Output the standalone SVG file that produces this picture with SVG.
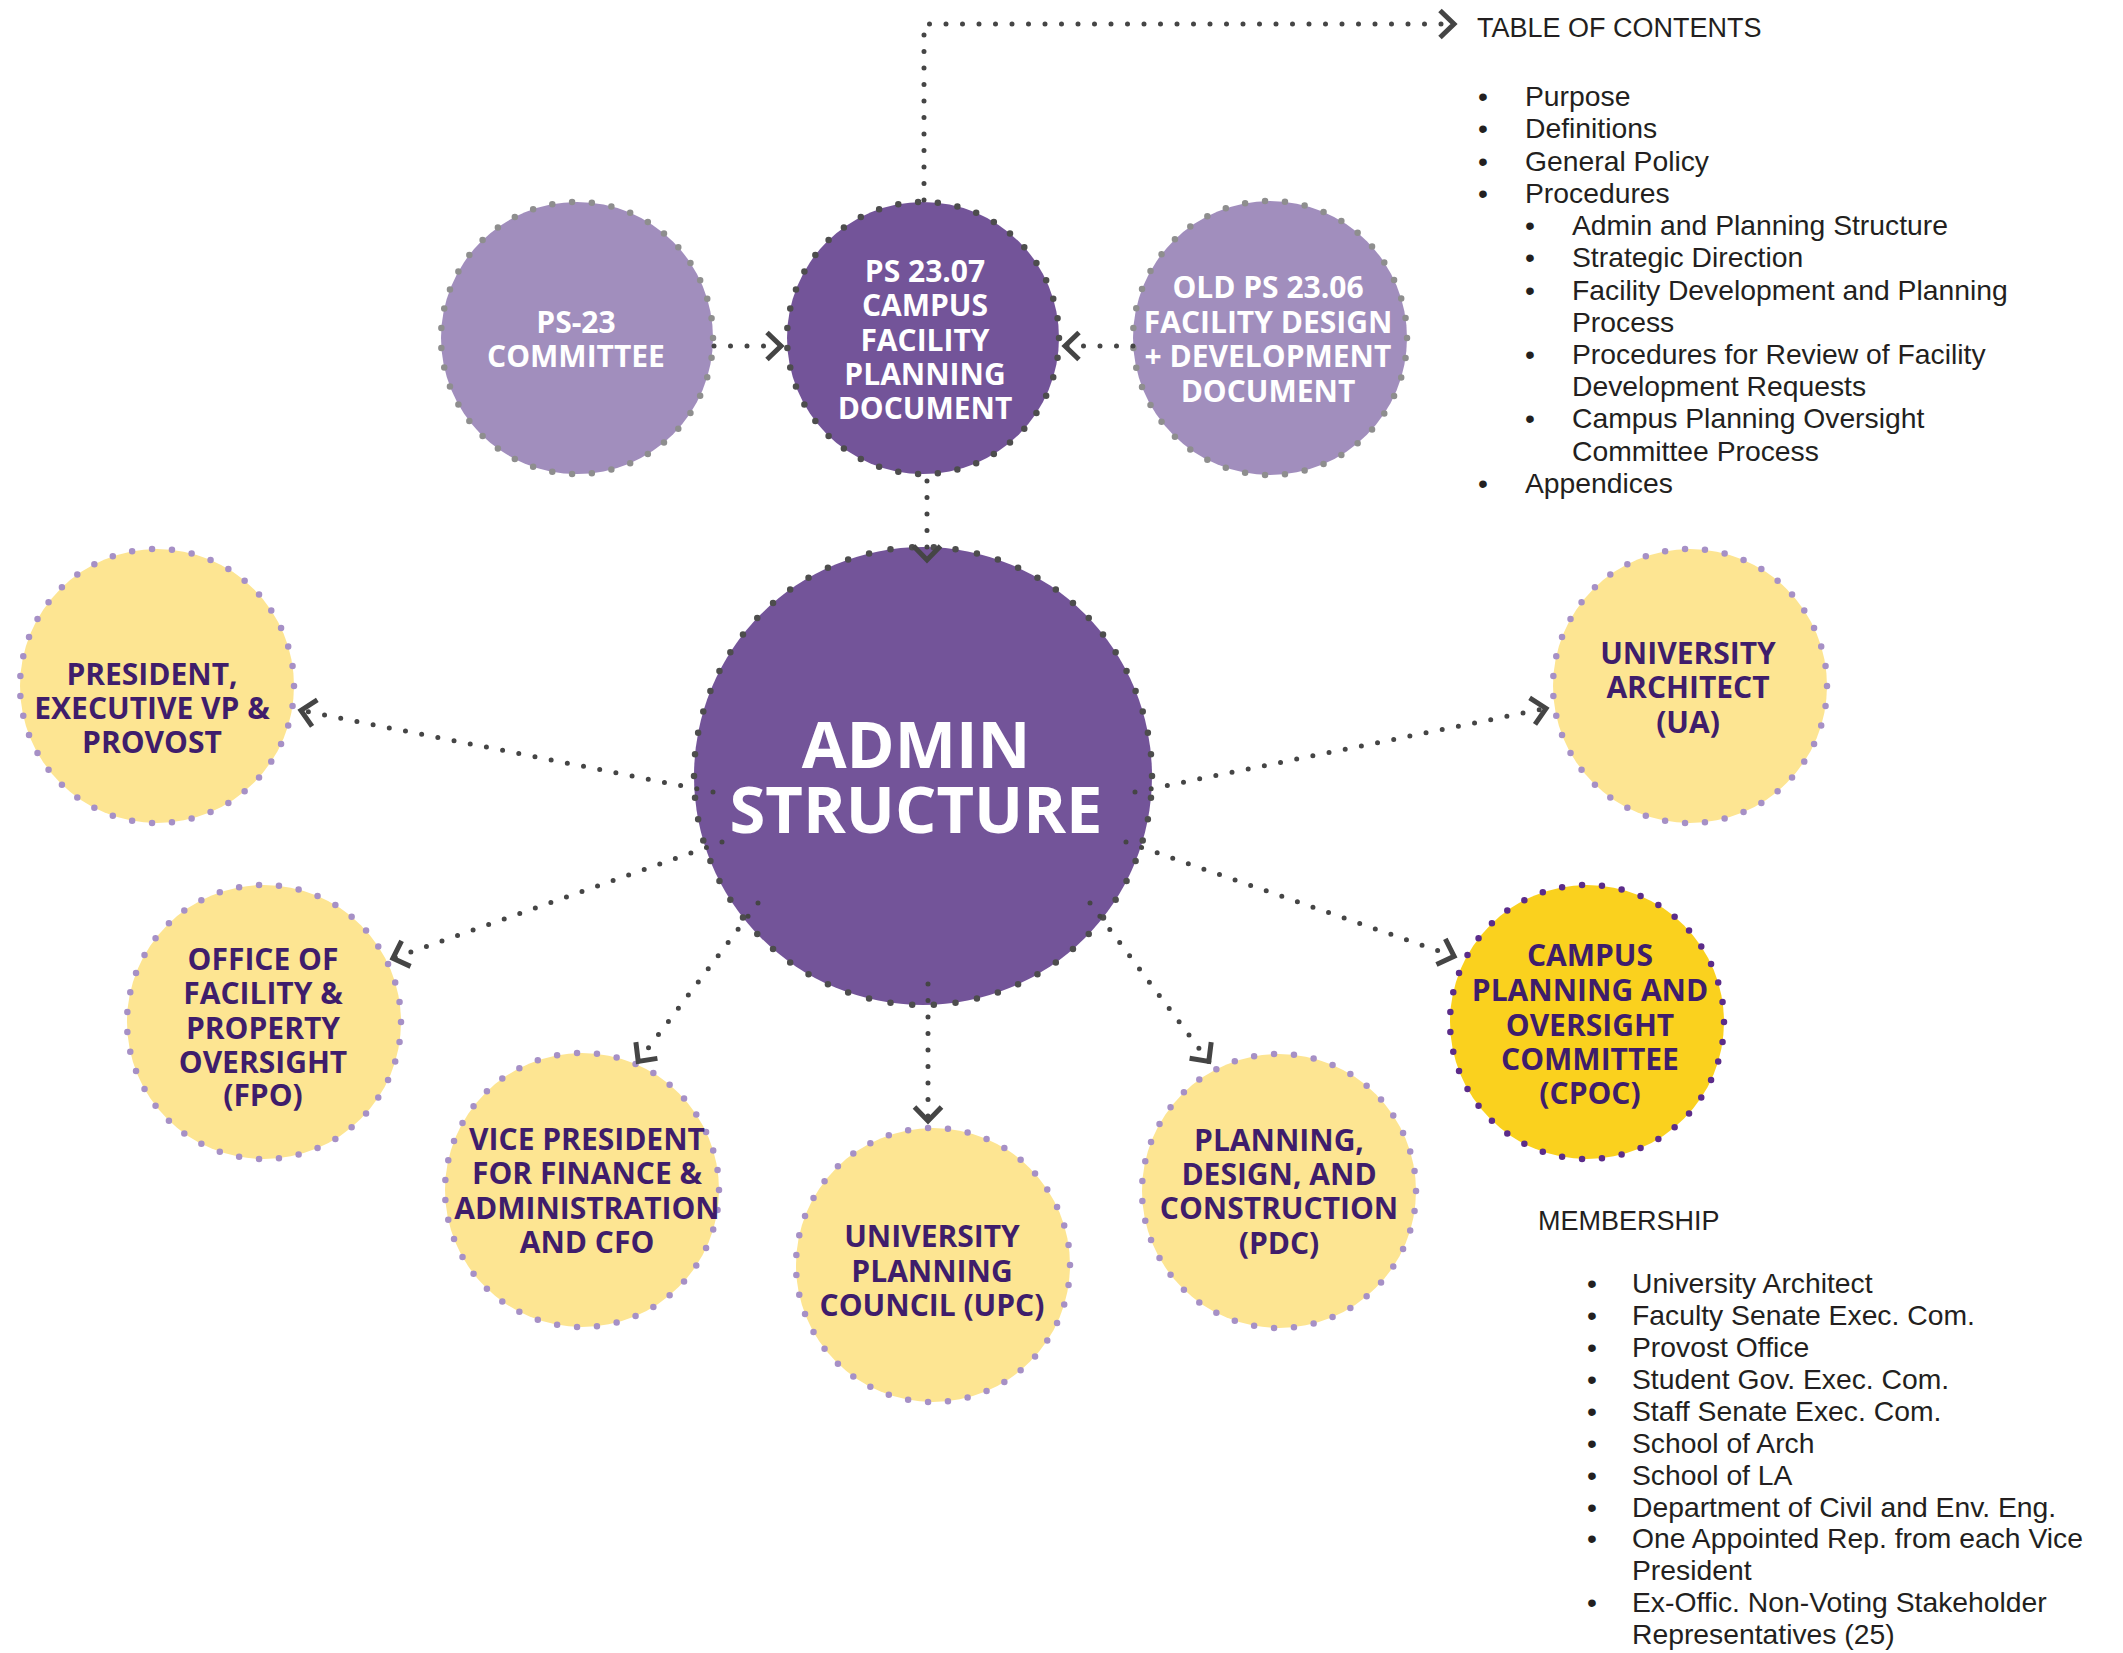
<svg xmlns="http://www.w3.org/2000/svg" width="2123" height="1653" viewBox="0 0 2123 1653">
<defs>
<style>
.n{stroke-width:6.5;stroke-linecap:round;stroke-dasharray:0 1}
.lp{fill:#A18EBD;stroke:#8E8E8E}
.dp{fill:#735499;stroke:#4D4D4D}
.ye{fill:#FDE592;stroke:#A690C6}
.go{fill:#FAD11E;stroke:#5B2C8A}
.lbl{font-family:"Open Sans","Noto Sans",sans-serif;font-weight:700;font-size:30px;text-anchor:middle}
.big{font-size:65px}
.w{fill:#FFFFFF}
.p{fill:#3F1D6B}
.c{fill:none;stroke:#454545;stroke-width:5;stroke-linecap:round;stroke-dasharray:0 16.5;marker-end:url(#chev)}
.t{font-family:"Liberation Sans",Arial,sans-serif;font-size:28.3px;fill:#231F20}
.h{font-size:27px}
.b{text-anchor:middle}
</style>
<marker id="chev" markerUnits="userSpaceOnUse" orient="auto" viewBox="-20 -20 40 40" markerWidth="40" markerHeight="40" refX="0" refY="0" overflow="visible">
<path d="M-16,-13.5 L-2,0 L-16,13.5" fill="none" stroke="#454545" stroke-width="5"/>
</marker>
</defs>
<rect width="2123" height="1653" fill="#FFFFFF"/>

<g id="node-ps23-committee">
<circle class="n lp" cx="577" cy="338" r="136" pathLength="43"/>
<text class="lbl w"><tspan x="576" y="333">PS-23</tspan><tspan x="576" y="367">COMMITTEE</tspan></text>
</g>

<g id="node-ps2307">
<circle class="n dp" cx="923" cy="338" r="136" pathLength="43"/>
<text class="lbl w"><tspan x="925" y="282">PS 23.07</tspan><tspan x="925" y="316">CAMPUS</tspan><tspan x="925" y="351">FACILITY</tspan><tspan x="925" y="385">PLANNING</tspan><tspan x="925" y="419">DOCUMENT</tspan></text>
</g>

<g id="node-old-ps2306">
<circle class="n lp" cx="1270" cy="338" r="137" pathLength="43"/>
<text class="lbl w"><tspan x="1268" y="298">OLD PS 23.06</tspan><tspan x="1268" y="333">FACILITY DESIGN</tspan><tspan x="1268" y="367">+ DEVELOPMENT</tspan><tspan x="1268" y="402">DOCUMENT</tspan></text>
</g>

<g id="node-admin">
<circle class="n dp" cx="923" cy="776" r="229" pathLength="66"/>
<text class="lbl big w"><tspan x="916" y="768">ADMIN</tspan><tspan x="916" y="833">STRUCTURE</tspan></text>
</g>

<g id="node-president">
<circle class="n ye" cx="157" cy="686" r="137" pathLength="43"/>
<text class="lbl p"><tspan x="152" y="685">PRESIDENT,</tspan><tspan x="152" y="719">EXECUTIVE VP &amp;</tspan><tspan x="152" y="753">PROVOST</tspan></text>
</g>

<g id="node-ua">
<circle class="n ye" cx="1690" cy="686" r="137" pathLength="43"/>
<text class="lbl p"><tspan x="1688" y="664">UNIVERSITY</tspan><tspan x="1688" y="698">ARCHITECT</tspan><tspan x="1688" y="733">(UA)</tspan></text>
</g>

<g id="node-fpo">
<circle class="n ye" cx="264" cy="1022" r="137" pathLength="43"/>
<text class="lbl p"><tspan x="263" y="970">OFFICE OF</tspan><tspan x="263" y="1004">FACILITY &amp;</tspan><tspan x="263" y="1039">PROPERTY</tspan><tspan x="263" y="1073">OVERSIGHT</tspan><tspan x="263" y="1106">(FPO)</tspan></text>
</g>

<g id="node-vp-finance">
<circle class="n ye" cx="582" cy="1190" r="137" pathLength="43"/>
<text class="lbl p"><tspan x="587" y="1150">VICE PRESIDENT</tspan><tspan x="587" y="1184">FOR FINANCE &amp;</tspan><tspan x="587" y="1219">ADMINISTRATION</tspan><tspan x="587" y="1253">AND CFO</tspan></text>
</g>

<g id="node-upc">
<circle class="n ye" cx="933" cy="1265" r="137" pathLength="43"/>
<text class="lbl p"><tspan x="932" y="1247">UNIVERSITY</tspan><tspan x="932" y="1282">PLANNING</tspan><tspan x="932" y="1316">COUNCIL (UPC)</tspan></text>
</g>

<g id="node-pdc">
<circle class="n ye" cx="1279" cy="1191" r="137" pathLength="43"/>
<text class="lbl p"><tspan x="1279" y="1151">PLANNING,</tspan><tspan x="1279" y="1185">DESIGN, AND</tspan><tspan x="1279" y="1219">CONSTRUCTION</tspan><tspan x="1279" y="1254">(PDC)</tspan></text>
</g>

<g id="node-cpoc">
<circle class="n go" cx="1587" cy="1022" r="137" pathLength="43"/>
<text class="lbl p"><tspan x="1590" y="966">CAMPUS</tspan><tspan x="1590" y="1001">PLANNING AND</tspan><tspan x="1590" y="1036">OVERSIGHT</tspan><tspan x="1590" y="1070">COMMITTEE</tspan><tspan x="1590" y="1104">(CPOC)</tspan></text>
</g>

<g id="connectors">
<path class="c" d="M924,200 V24 H1456"/>
<path class="c" d="M714,346 H783"/>
<path class="c" d="M1133,346 H1063"/>
<path class="c" d="M927,481 V562"/>
<path class="c" d="M713,792 L299,710"/>
<path class="c" d="M1135,792 L1548,708"/>
<path class="c" d="M722,842 L391,959"/>
<path class="c" d="M758,903 L637,1063"/>
<path class="c" d="M928,984 V1123"/>
<path class="c" d="M1090,903 L1210,1063"/>
<path class="c" d="M1126,842 L1456,957"/>
</g>

<g id="toc">
<text class="t h" x="1477" y="37">TABLE OF CONTENTS</text>
<text class="t">
<tspan class="b" x="1483" y="106">•</tspan><tspan x="1525" y="106">Purpose</tspan>
<tspan class="b" x="1483" y="138">•</tspan><tspan x="1525" y="138">Definitions</tspan>
<tspan class="b" x="1483" y="171">•</tspan><tspan x="1525" y="171">General Policy</tspan>
<tspan class="b" x="1483" y="203">•</tspan><tspan x="1525" y="203">Procedures</tspan>
<tspan class="b" x="1530" y="235">•</tspan><tspan x="1572" y="235">Admin and Planning Structure</tspan>
<tspan class="b" x="1530" y="267">•</tspan><tspan x="1572" y="267">Strategic Direction</tspan>
<tspan class="b" x="1530" y="300">•</tspan><tspan x="1572" y="300">Facility Development and Planning</tspan>
<tspan x="1572" y="332">Process</tspan>
<tspan class="b" x="1530" y="364">•</tspan><tspan x="1572" y="364">Procedures for Review of Facility</tspan>
<tspan x="1572" y="396">Development Requests</tspan>
<tspan class="b" x="1530" y="428">•</tspan><tspan x="1572" y="428">Campus Planning Oversight</tspan>
<tspan x="1572" y="461">Committee Process</tspan>
<tspan class="b" x="1483" y="493">•</tspan><tspan x="1525" y="493">Appendices</tspan>
</text>
</g>

<g id="membership">
<text class="t h" x="1538" y="1230">MEMBERSHIP</text>
<text class="t">
<tspan class="b" x="1592" y="1293">•</tspan><tspan x="1632" y="1293">University Architect</tspan>
<tspan class="b" x="1592" y="1325">•</tspan><tspan x="1632" y="1325">Faculty Senate Exec. Com.</tspan>
<tspan class="b" x="1592" y="1357">•</tspan><tspan x="1632" y="1357">Provost Office</tspan>
<tspan class="b" x="1592" y="1389">•</tspan><tspan x="1632" y="1389">Student Gov. Exec. Com.</tspan>
<tspan class="b" x="1592" y="1421">•</tspan><tspan x="1632" y="1421">Staff Senate Exec. Com.</tspan>
<tspan class="b" x="1592" y="1453">•</tspan><tspan x="1632" y="1453">School of Arch</tspan>
<tspan class="b" x="1592" y="1485">•</tspan><tspan x="1632" y="1485">School of LA</tspan>
<tspan class="b" x="1592" y="1517">•</tspan><tspan x="1632" y="1517">Department of Civil and Env. Eng.</tspan>
<tspan class="b" x="1592" y="1548">•</tspan><tspan x="1632" y="1548">One Appointed Rep. from each Vice</tspan>
<tspan x="1632" y="1580">President</tspan>
<tspan class="b" x="1592" y="1612">•</tspan><tspan x="1632" y="1612">Ex-Offic. Non-Voting Stakeholder</tspan>
<tspan x="1632" y="1644">Representatives (25)</tspan>
</text>
</g>
</svg>
